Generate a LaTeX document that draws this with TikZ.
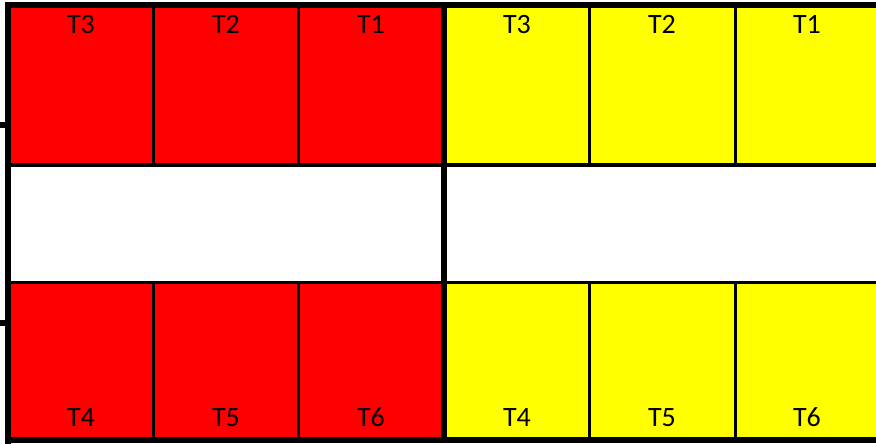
\documentclass[tikz,border=0pt]{standalone}
\usepackage{fontspec}
\setmainfont{Carlito}
\definecolor{cellred}{RGB}{255,0,0}
\definecolor{cellyel}{RGB}{255,255,0}
\begin{document}
\begin{tikzpicture}[x=1pt,y=-1pt,
  lbl/.style={font=\fontsize{28}{28}\selectfont, inner sep=0pt, anchor=base},
  thick6/.style={line width=6pt},
  row/.style={line width=4pt},
  col/.style={line width=3pt}]
\useasboundingbox (0,0) rectangle (876,444);
% fills
\fill[cellred] (8,5) rectangle (444,165);
\fill[cellred] (8,282) rectangle (444,440);
\fill[cellyel] (444,5) rectangle (876,165);
\fill[cellyel] (444,282) rectangle (876,440);
% column dividers
\foreach \x in {153,298,589,735} {
  \draw[col] (\x,5) -- (\x,165);
  \draw[col] (\x,282) -- (\x,440);
}
% row lines
\draw[row] (8,165) -- (876,165);
\draw[col,line width=3.5pt] (8,282.5) -- (876,282.5);
% outer and middle thick lines
\draw[thick6] (5,5) -- (876,5);
\draw[thick6] (5,440) -- (876,440);
\draw[thick6] (8,2) -- (8,444);
\draw[thick6] (444,5) -- (444,440);
% left ticks
\draw[thick6] (0,125) -- (8,125);
\draw[thick6] (0,323) -- (8,323);
% labels
\node[lbl] (r1) at (81,34) {T3};
\node[lbl] (r2) at (226,34) {T2};
\node[lbl] (r3) at (371,34) {T1};
\node[lbl] (y1) at (517,34) {T3};
\node[lbl] (y2) at (662,34) {T2};
\node[lbl] (y3) at (807,34) {T1};
\node[lbl] (r4) at (81,426) {T4};
\node[lbl] (r5) at (226,426) {T5};
\node[lbl] (r6) at (371,426) {T6};
\node[lbl] (y4) at (517,426) {T4};
\node[lbl] (y5) at (662,426) {T5};
\node[lbl] (y6) at (807,426) {T6};
\end{tikzpicture}
\end{document}
